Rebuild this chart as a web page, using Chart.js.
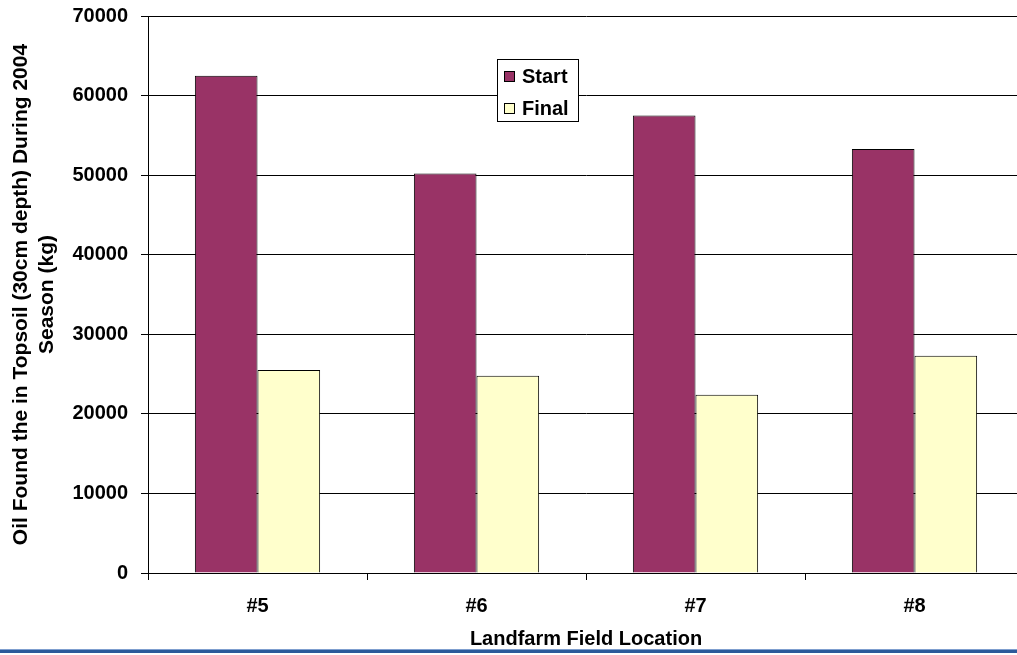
<!DOCTYPE html>
<html>
<head>
<meta charset="utf-8">
<script src="https://cdn.jsdelivr.net/npm/chart.js@4"></script>
<style>
  html, body { margin: 0; padding: 0; background: #fff; overflow: hidden; width: 1017px; height: 655px; }
  #wrap { width: 1024px; height: 655px; }
</style>
</head>
<body>
<div id="wrap"><canvas id="c" width="1024" height="655"></canvas></div>
<script>
// Field locations along the x axis
const fieldLocations = ['#5', '#6', '#7', '#8'];
// Oil in topsoil (kg) at the start and the end of the season
const startOil = [62500, 50200, 57500, 53300];
const finalOil = [25500, 24800, 22400, 27300];
const seriesNames = ['Start', 'Final'];
// Axis titles and range
const yTitleLines = ['Oil Found the in Topsoil (30cm depth) During 2004', 'Season (kg)'];
const xTitle = 'Landfarm Field Location';
const yMin = 0, yMax = 70000, yStep = 10000;

const FONT = '"Liberation Sans", Arial, Helvetica, sans-serif';

// Legend box drawn inside the plot area
const insetLegend = {
  id: 'insetLegend',
  afterDatasetsDraw(chart) {
    const ctx = chart.ctx;
    const box = { x: 497, y: 59, w: 82, h: 63 };
    ctx.save();
    ctx.fillStyle = '#ffffff';
    ctx.fillRect(box.x, box.y, box.w, box.h);
    ctx.strokeStyle = '#000000';
    ctx.lineWidth = 1;
    ctx.strokeRect(box.x + 0.5, box.y + 0.5, box.w - 1, box.h - 1);
    ctx.font = 'bold 20px ' + FONT;
    ctx.textBaseline = 'middle';
    ctx.textAlign = 'left';
    chart.data.datasets.forEach((ds, i) => {
      const cy = box.y + 17.5 + i * 31.5;
      ctx.fillStyle = ds.backgroundColor;
      ctx.fillRect(504, Math.round(cy - 5.5), 11, 11);
      ctx.strokeStyle = '#000000';
      ctx.strokeRect(504.5, Math.round(cy - 5.5) + 0.5, 10, 10);
      ctx.fillStyle = '#000000';
      ctx.fillText(ds.label, 522, cy + 1);
    });
    ctx.restore();
  }
};

// Blue rule along the bottom edge
const bottomRule = {
  id: 'bottomRule',
  afterDraw(chart) {
    const ctx = chart.ctx;
    ctx.save();
    ctx.fillStyle = '#7f9fcf';
    ctx.fillRect(0, 649, chart.width, 1);
    ctx.fillStyle = '#2c5a9a';
    ctx.fillRect(0, 650, chart.width, 3);
    ctx.restore();
  }
};

new Chart(document.getElementById('c'), {
  type: 'bar',
  data: {
    labels: fieldLocations,
    datasets: [
      { label: seriesNames[0], data: startOil, backgroundColor: '#993366', borderColor: '#000000', borderWidth: 1 },
      { label: seriesNames[1], data: finalOil, backgroundColor: '#ffffcc', borderColor: '#000000', borderWidth: 1 }
    ]
  },
  options: {
    responsive: false,
    animation: false,
    devicePixelRatio: 1,
    layout: { padding: { top: 16, left: 0, right: 0, bottom: 0 } },
    datasets: { bar: { barPercentage: 1, categoryPercentage: 0.572 } },
    plugins: { legend: { display: false }, tooltip: { enabled: false } },
    scales: {
      x: {
        afterFit: s => { s.height = 82; s.paddingLeft = 0; s.paddingRight = 0; },
        grid: { display: true, drawOnChartArea: false, drawTicks: true, tickLength: 7, color: '#000000', tickColor: '#000000' },
        border: { display: true, color: '#000000', width: 1 },
        ticks: { color: '#000000', padding: 14, font: { family: FONT, size: 20, weight: 'bold', lineHeight: 1.2 } },
        title: { display: true, text: xTitle, color: '#000000', padding: { top: 0, bottom: 4 },
                 font: { family: FONT, size: 20, weight: 'bold', lineHeight: 1.2 } }
      },
      y: {
        min: yMin, max: yMax,
        afterFit: s => { s.width = 148; s.paddingTop = 0; s.paddingBottom = 0; },
        grid: { display: true, drawOnChartArea: true, drawTicks: true, tickLength: 7, color: '#000000', tickColor: '#000000' },
        border: { display: true, color: '#000000', width: 1 },
        ticks: { stepSize: yStep, color: '#000000', padding: 13, callback: v => String(v),
                 font: { family: FONT, size: 20, weight: 'bold', lineHeight: 1.2 } },
        title: { display: true, text: yTitleLines, color: '#000000', padding: { top: 9, bottom: 0 },
                 font: { family: FONT, size: 21, weight: 'bold', lineHeight: 1.2 } }
      }
    }
  },
  plugins: [insetLegend, bottomRule]
});
</script>
</body>
</html>
